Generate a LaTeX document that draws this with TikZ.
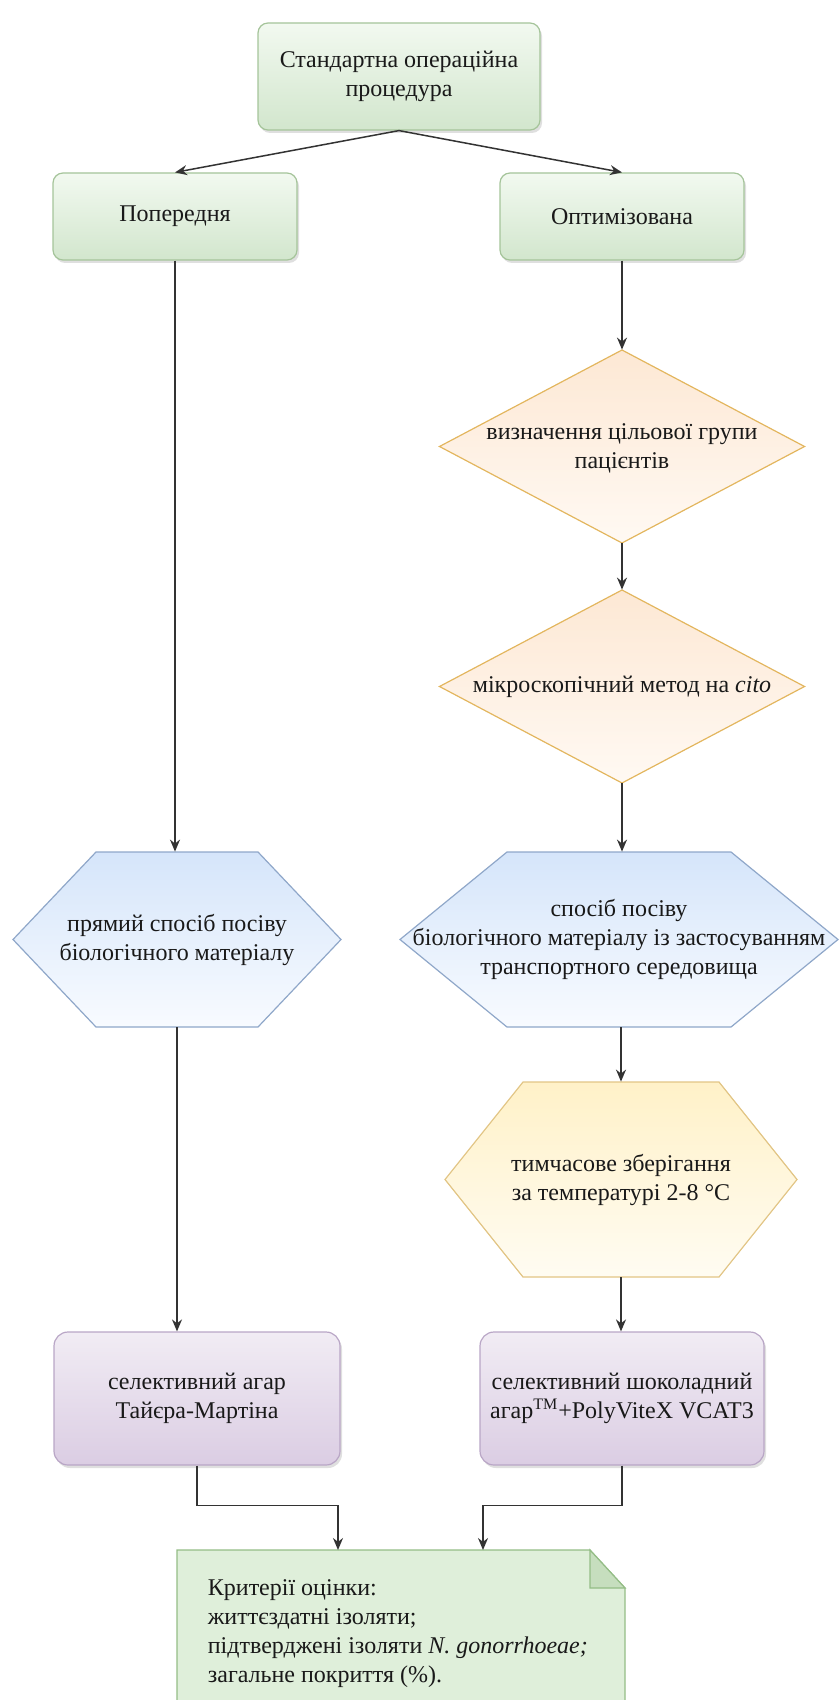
\documentclass[tikz,border=0pt]{standalone}
\usepackage{fontspec}
\setmainfont{Liberation Serif}
\usepackage{tikz}
\usetikzlibrary{shapes,arrows}
\usetikzlibrary{arrows.meta}
\usetikzlibrary{shadows}

\definecolor{grnTop}{HTML}{F2F9F0}
\definecolor{grnBot}{HTML}{D2E6CD}
\definecolor{grnLine}{HTML}{A5C49A}
\definecolor{orgTop}{HTML}{FDE8D4}
\definecolor{orgBot}{HTML}{FFF9F3}
\definecolor{orgLine}{HTML}{E3B65E}
\definecolor{bluTop}{HTML}{D5E5FA}
\definecolor{bluBot}{HTML}{F8FBFF}
\definecolor{bluLine}{HTML}{8FA7C9}
\definecolor{ylwTop}{HTML}{FFF1C8}
\definecolor{ylwBot}{HTML}{FFFCF2}
\definecolor{ylwLine}{HTML}{E2C585}
\definecolor{prpTop}{HTML}{F1ECF4}
\definecolor{prpBot}{HTML}{DBCDE3}
\definecolor{prpLine}{HTML}{B9A6C6}
\definecolor{noteFill}{HTML}{DFEFDA}
\definecolor{noteFold}{HTML}{C6DEBE}
\definecolor{noteLine}{HTML}{94BD86}

\begin{document}
\begin{tikzpicture}[x=0.5pt,y=0.5pt,yscale=-1,xscale=1,
  txt/.style={font=\fontsize{12}{14.5}\selectfont, text=black!90, align=center, inner sep=0.75pt},
  boxshadow/.style={drop shadow={shadow xshift=1pt, shadow yshift=-1.5pt, opacity=0.25, fill=black!50}},
  greenbox/.style={txt, draw=grnLine, line width=0.6pt, rounded corners=5pt, top color=grnTop, bottom color=grnBot, boxshadow},
  purplebox/.style={txt, draw=prpLine, line width=0.6pt, rounded corners=7pt, top color=prpTop, bottom color=prpBot, boxshadow},
  arr/.style={draw=black!80, line width=0.75pt, -{Stealth[length=6pt,width=5pt]}}
]
\useasboundingbox (0,0) rectangle (839,1700);

%Flowchart: Decision [id:target]
\shadedraw [top color=orgTop, bottom color=orgBot, draw=orgLine, line width=0.6pt] (622,350) -- (804.5,446.5) -- (622,543) -- (439.5,446.5) -- cycle ;
%Flowchart: Decision [id:micro]
\shadedraw [top color=orgTop, bottom color=orgBot, draw=orgLine, line width=0.6pt] (622,590) -- (804.5,686.5) -- (622,783) -- (439.5,686.5) -- cycle ;
%Shape: Hexagon [id:hexl]
\shadedraw [top color=bluTop, bottom color=bluBot, draw=bluLine, line width=0.6pt] (13,939.5) -- (96,852) -- (258,852) -- (341,939.5) -- (258,1027) -- (96,1027) -- cycle ;
%Shape: Hexagon [id:hexr]
\shadedraw [top color=bluTop, bottom color=bluBot, draw=bluLine, line width=0.6pt] (400,939.5) -- (507,852) -- (731,852) -- (838,939.5) -- (731,1027) -- (507,1027) -- cycle ;
%Shape: Hexagon [id:store]
\shadedraw [top color=ylwTop, bottom color=ylwBot, draw=ylwLine, line width=0.6pt] (445,1179.5) -- (523,1082) -- (719,1082) -- (797,1179.5) -- (719,1277) -- (523,1277) -- cycle ;
%Flowchart: Note [id:crit]
\filldraw [fill=noteFill, draw=noteLine, line width=0.6pt] (177,1550) -- (590,1550) -- (625,1588) -- (625,1712) -- (177,1712) -- cycle ;
\filldraw [fill=noteFold, draw=noteLine, line width=0.6pt] (590,1550) -- (590,1588) -- (625,1588) -- cycle ;

% Text Node
\draw (399,76.5) node [greenbox, minimum width=141pt, minimum height=53.5pt] (sop) {Стандартна операційна\\процедура};
% Text Node
\draw (175,216.5) node [greenbox, minimum width=122pt, minimum height=43.5pt] (prev) {Попередня};
% Text Node
\draw (622,216.5) node [greenbox, minimum width=122pt, minimum height=43.5pt] (opt) {Оптимізована};
% Text Node
\draw (622,446.5) node [txt, minimum width=182.5pt, minimum height=96.5pt, text depth=0pt] (target) {визначення цільової групи\\пацієнтів};
% Text Node
\draw (622,686.5) node [txt, minimum width=182.5pt, minimum height=96.5pt] (micro) {мікроскопічний метод на \textit{cito}};
% Text Node
\draw (177,939.5) node [txt, minimum width=164pt, minimum height=87.5pt] (hexl) {прямий спосіб посіву\\біологічного матеріалу};
% Text Node
\draw (619,939.5) node [txt, minimum width=219pt, minimum height=87.5pt] (hexr) {спосіб посіву\\біологічного матеріалу із застосуванням\\транспортного середовища};
% Text Node
\draw (621,1179.5) node [txt, minimum width=176pt, minimum height=97.5pt] (store) {тимчасове зберігання\\за температурі 2-8 °C};
% Text Node
\draw (197,1398.5) node [purplebox, minimum width=143pt, minimum height=66.5pt] (agl) {селективний агар\\Тайєра-Мартіна};
% Text Node
\draw (622,1398.5) node [purplebox, minimum width=142pt, minimum height=66.5pt] (agr) {селективний шоколадний\\агар\textsuperscript{TM}+PolyViteX VCAT3};
% Text Node
\draw (206,1682) node [txt, anchor=base west, align=left] (crit) {Критерії оцінки:\\життєздатні ізоляти;\\підтверджені ізоляти \textit{N. gonorrhoeae;}\\загальне покриття (\%).};

\coordinate (inl) at (338,1550);
\coordinate (inr) at (483,1550);

%Straight Lines
\draw [arr] (sop.south) -- (prev.north);
\draw [arr] (sop.south) -- (opt.north);
\draw [arr] (opt.south) -- (target.north);
\draw [arr] (target.south) -- (micro.north);
\draw [arr] (micro.south) -- (micro.south |- hexr.north);
\draw [arr] (hexr.south -| store.north) -- (store.north);
\draw [arr] (store.south) -- (store.south |- agr.north);
\draw [arr] (prev.south) -- (prev.south |- hexl.north);
\draw [arr] (hexl.south) -- (hexl.south |- agl.north);
%Elbow Lines
\draw [arr] (agl.south) -- ++(0,40) -| (inl);
\draw [arr] (agr.south) -- ++(0,40) -| (inr);

\end{tikzpicture}
\end{document}
